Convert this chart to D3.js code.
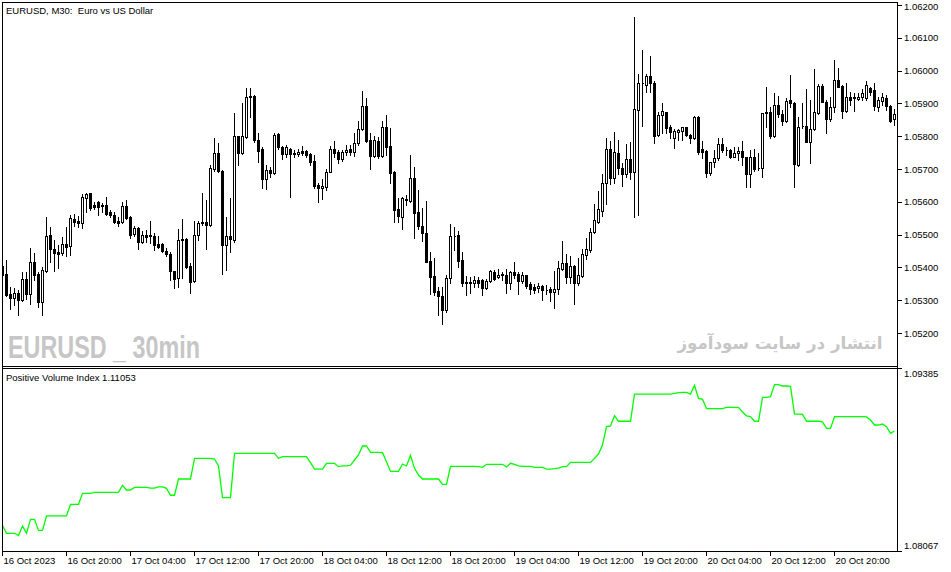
<!DOCTYPE html>
<html><head><meta charset="utf-8">
<script src="https://cdn.jsdelivr.net/npm/d3@7"></script>
<style>body{margin:0;background:#fff}svg{display:block}</style>
</head><body>
<svg id="chart"></svg>
<script>
// ---- data: EURUSD M30 candles (bar 0 = 16 Oct 2023 12:00) ----
const openP = [
1.05406,1.05382,1.05321,1.05309,1.05325,1.05302,1.05365,1.05320,1.05417,1.05381,1.05297,1.05392,1.05501,1.05458,1.05447,1.05445,
1.05472,1.05467,1.05550,1.05543,1.05538,1.05614,1.05627,1.05592,1.05600,1.05592,1.05592,1.05570,1.05562,1.05544,1.05541,1.05589,
1.05556,1.05502,1.05522,1.05478,1.05501,1.05501,1.05498,1.05473,1.05472,1.05452,1.05443,1.05392,1.05370,1.05486,1.05488,1.05406,
1.05361,1.05501,1.05541,1.05541,1.05531,1.05701,1.05750,1.05696,1.05470,1.05498,1.05485,1.05802,1.05749,1.05798,1.05925,1.05925,
1.05790,1.05762,1.05670,1.05698,1.05688,1.05808,1.05768,1.05747,1.05764,1.05749,1.05747,1.05756,1.05757,1.05747,1.05727,1.05653,
1.05643,1.05648,1.05693,1.05762,1.05754,1.05732,1.05752,1.05762,1.05754,1.05780,1.05823,1.05894,1.05790,1.05741,1.05788,1.05741,
1.05830,1.05772,1.05693,1.05579,1.05556,1.05607,1.05605,1.05673,1.05570,1.05529,1.05506,1.05421,1.05376,1.05330,1.05313,1.05272,
1.05368,1.05497,1.05501,1.05424,1.05356,1.05356,1.05353,1.05363,1.05363,1.05338,1.05361,1.05387,1.05372,1.05380,1.05379,1.05355,
1.05387,1.05382,1.05361,1.05379,1.05351,1.05341,1.05338,1.05345,1.05334,1.05336,1.05328,1.05335,1.05397,1.05414,1.05372,1.05407,
1.05355,1.05376,1.05440,1.05455,1.05509,1.05539,1.05574,1.05658,1.05761,1.05675,1.05749,1.05706,1.05685,1.05731,1.05693,1.05881,
1.05963,1.05958,1.05985,1.05965,1.05805,1.05866,1.05874,1.05829,1.05795,1.05813,1.05818,1.05829,1.05805,1.05795,1.05861,1.05761,
1.05757,1.05688,1.05722,1.05734,1.05777,1.05760,1.05759,1.05739,1.05749,1.05756,1.05737,1.05685,1.05739,1.05705,1.05704,1.05873,
1.05874,1.05802,1.05897,1.05868,1.05849,1.05912,1.05904,1.05713,1.05832,1.05833,1.05785,1.05823,1.05873,1.05955,1.05907,1.05854,
1.05890,1.05973,1.05955,1.05879,1.05922,1.05920,1.05916,1.05922,1.05917,1.05948,1.05942,1.05891,1.05910,1.05917,1.05894,1.05853];
const highP = [
1.05409,1.05424,1.05342,1.05339,1.05333,1.05388,1.05388,1.05460,1.05445,1.05388,1.05404,1.05556,1.05526,1.05485,1.05470,1.05493,
1.05526,1.05562,1.05564,1.05558,1.05624,1.05627,1.05629,1.05602,1.05605,1.05597,1.05617,1.05577,1.05571,1.05556,1.05600,1.05607,
1.05559,1.05529,1.05526,1.05514,1.05516,1.05544,1.05506,1.05498,1.05475,1.05460,1.05450,1.05392,1.05519,1.05549,1.05490,1.05414,
1.05544,1.05544,1.05627,1.05607,1.05714,1.05795,1.05780,1.05698,1.05556,1.05612,1.05873,1.05802,1.05904,1.05948,1.05948,1.05927,
1.05810,1.05769,1.05714,1.05708,1.05810,1.05812,1.05772,1.05775,1.05765,1.05759,1.05764,1.05772,1.05759,1.05749,1.05744,1.05658,
1.05671,1.05701,1.05772,1.05787,1.05759,1.05759,1.05775,1.05775,1.05810,1.05849,1.05940,1.05917,1.05812,1.05802,1.05800,1.05849,
1.05866,1.05826,1.05696,1.05612,1.05617,1.05622,1.05744,1.05707,1.05637,1.05582,1.05604,1.05450,1.05430,1.05343,1.05343,1.05379,
1.05534,1.05526,1.05513,1.05450,1.05375,1.05373,1.05375,1.05371,1.05366,1.05366,1.05394,1.05394,1.05396,1.05387,1.05396,1.05391,
1.05417,1.05387,1.05387,1.05379,1.05356,1.05351,1.05353,1.05348,1.05348,1.05343,1.05391,1.05421,1.05482,1.05442,1.05435,1.05409,
1.05430,1.05457,1.05491,1.05521,1.05595,1.05635,1.05685,1.05795,1.05788,1.05813,1.05790,1.05719,1.05777,1.05783,1.06166,1.05991,
1.06064,1.05991,1.06046,1.05970,1.05874,1.05902,1.05876,1.05836,1.05823,1.05824,1.05830,1.05830,1.05807,1.05863,1.05863,1.05788,
1.05759,1.05724,1.05759,1.05795,1.05795,1.05769,1.05763,1.05769,1.05769,1.05787,1.05739,1.05759,1.05763,1.05749,1.05873,1.05951,
1.05891,1.05932,1.05925,1.05881,1.05917,1.05988,1.05907,1.05861,1.05904,1.05945,1.05912,1.06005,1.05961,1.05960,1.05912,1.05922,
1.06034,1.06008,1.05958,1.05963,1.05937,1.05932,1.05934,1.05944,1.05971,1.05953,1.05963,1.05922,1.05932,1.05927,1.05897,1.05883];
const lowP = [
1.05375,1.05315,1.05275,1.05287,1.05257,1.05300,1.05305,1.05291,1.05363,1.05280,1.05255,1.05386,1.05419,1.05392,1.05401,1.05438,
1.05435,1.05440,1.05528,1.05526,1.05522,1.05571,1.05577,1.05580,1.05562,1.05569,1.05562,1.05556,1.05536,1.05528,1.05538,1.05549,
1.05491,1.05498,1.05458,1.05476,1.05479,1.05476,1.05455,1.05460,1.05450,1.05435,1.05363,1.05338,1.05341,1.05368,1.05400,1.05325,
1.05358,1.05485,1.05531,1.05458,1.05529,1.05695,1.05692,1.05381,1.05394,1.05447,1.05480,1.05714,1.05747,1.05795,1.05861,1.05785,
1.05724,1.05643,1.05640,1.05677,1.05686,1.05764,1.05731,1.05737,1.05617,1.05739,1.05741,1.05744,1.05737,1.05714,1.05643,1.05602,
1.05609,1.05637,1.05691,1.05737,1.05721,1.05726,1.05744,1.05744,1.05742,1.05775,1.05820,1.05785,1.05703,1.05737,1.05734,1.05737,
1.05744,1.05658,1.05541,1.05541,1.05519,1.05592,1.05602,1.05491,1.05518,1.05483,1.05417,1.05321,1.05316,1.05255,1.05229,1.05267,
1.05354,1.05455,1.05404,1.05345,1.05316,1.05325,1.05341,1.05341,1.05318,1.05335,1.05358,1.05363,1.05369,1.05363,1.05325,1.05336,
1.05369,1.05321,1.05355,1.05338,1.05321,1.05323,1.05328,1.05302,1.05321,1.05300,1.05279,1.05321,1.05394,1.05353,1.05353,1.05290,
1.05348,1.05373,1.05427,1.05450,1.05506,1.05536,1.05558,1.05595,1.05655,1.05660,1.05686,1.05650,1.05678,1.05670,1.05556,1.05562,
1.05833,1.05937,1.05937,1.05780,1.05803,1.05810,1.05810,1.05795,1.05767,1.05790,1.05790,1.05803,1.05780,1.05792,1.05747,1.05734,
1.05678,1.05683,1.05707,1.05729,1.05752,1.05744,1.05734,1.05737,1.05729,1.05714,1.05648,1.05646,1.05696,1.05698,1.05678,1.05831,
1.05797,1.05798,1.05861,1.05836,1.05846,1.05891,1.05648,1.05710,1.05828,1.05783,1.05719,1.05820,1.05868,1.05905,1.05810,1.05849,
1.05876,1.05951,1.05858,1.05874,1.05897,1.05879,1.05912,1.05912,1.05912,1.05927,1.05881,1.05878,1.05897,1.05881,1.05846,1.05836];
const closeP = [
1.05378,1.05318,1.05309,1.05322,1.05302,1.05365,1.05320,1.05417,1.05379,1.05297,1.05394,1.05498,1.05457,1.05445,1.05441,1.05473,
1.05465,1.05552,1.05541,1.05538,1.05616,1.05625,1.05582,1.05587,1.05587,1.05589,1.05565,1.05562,1.05541,1.05538,1.05589,1.05551,
1.05501,1.05522,1.05478,1.05501,1.05494,1.05496,1.05470,1.05465,1.05453,1.05442,1.05392,1.05366,1.05485,1.05488,1.05402,1.05356,
1.05501,1.05536,1.05536,1.05531,1.05704,1.05749,1.05695,1.05470,1.05498,1.05489,1.05802,1.05749,1.05802,1.05922,1.05920,1.05790,
1.05757,1.05670,1.05698,1.05688,1.05805,1.05768,1.05747,1.05768,1.05747,1.05746,1.05754,1.05751,1.05744,1.05724,1.05650,1.05643,
1.05650,1.05693,1.05762,1.05751,1.05732,1.05754,1.05759,1.05754,1.05782,1.05823,1.05894,1.05788,1.05741,1.05790,1.05741,1.05830,
1.05769,1.05688,1.05577,1.05558,1.05612,1.05609,1.05673,1.05567,1.05529,1.05506,1.05419,1.05373,1.05328,1.05313,1.05272,1.05368,
1.05498,1.05498,1.05422,1.05355,1.05355,1.05355,1.05363,1.05353,1.05338,1.05360,1.05391,1.05366,1.05379,1.05379,1.05355,1.05387,
1.05379,1.05361,1.05379,1.05345,1.05336,1.05333,1.05345,1.05333,1.05333,1.05328,1.05336,1.05399,1.05414,1.05373,1.05406,1.05355,
1.05379,1.05443,1.05457,1.05509,1.05546,1.05580,1.05658,1.05761,1.05675,1.05752,1.05705,1.05685,1.05731,1.05693,1.05884,1.05963,
1.05964,1.05985,1.05963,1.05803,1.05866,1.05878,1.05827,1.05813,1.05817,1.05820,1.05829,1.05805,1.05795,1.05861,1.05754,1.05754,
1.05688,1.05722,1.05734,1.05777,1.05759,1.05759,1.05739,1.05749,1.05756,1.05737,1.05685,1.05737,1.05701,1.05704,1.05871,1.05874,
1.05803,1.05897,1.05868,1.05849,1.05910,1.05904,1.05717,1.05830,1.05833,1.05785,1.05823,1.05874,1.05955,1.05907,1.05854,1.05890,
1.05973,1.05953,1.05879,1.05922,1.05912,1.05919,1.05922,1.05932,1.05958,1.05937,1.05894,1.05912,1.05920,1.05894,1.05848,1.05869];
// Positive Volume Index, one value per bar
const pvi = [
1.08253,1.08198,1.08198,1.08198,1.08181,1.08251,1.08198,1.08299,1.08299,1.08219,1.08219,1.08323,1.08323,1.08323,1.08323,1.08323,
1.08323,1.08407,1.08407,1.08407,1.08486,1.08486,1.08486,1.08493,1.08493,1.08493,1.08493,1.08493,1.08493,1.08493,1.08544,1.08510,
1.08510,1.08529,1.08529,1.08529,1.08529,1.08524,1.08524,1.08532,1.08532,1.08522,1.08472,1.08472,1.08589,1.08589,1.08589,1.08589,
1.08738,1.08738,1.08738,1.08738,1.08738,1.08733,1.08683,1.08455,1.08455,1.08455,1.08774,1.08774,1.08774,1.08774,1.08774,1.08774,
1.08774,1.08774,1.08774,1.08774,1.08774,1.08738,1.08750,1.08750,1.08750,1.08750,1.08750,1.08750,1.08750,1.08707,1.08661,1.08661,
1.08661,1.08702,1.08702,1.08702,1.08678,1.08683,1.08683,1.08688,1.08726,1.08762,1.08827,1.08827,1.08781,1.08781,1.08781,1.08779,
1.08714,1.08644,1.08644,1.08644,1.08697,1.08683,1.08760,1.08666,1.08618,1.08589,1.08589,1.08589,1.08589,1.08589,1.08551,1.08551,
1.08680,1.08680,1.08680,1.08680,1.08680,1.08680,1.08680,1.08678,1.08673,1.08695,1.08695,1.08695,1.08695,1.08695,1.08676,1.08702,
1.08695,1.08683,1.08680,1.08680,1.08680,1.08673,1.08673,1.08673,1.08661,1.08661,1.08664,1.08668,1.08678,1.08678,1.08709,1.08709,
1.08709,1.08709,1.08709,1.08709,1.08738,1.08769,1.08834,1.08966,1.08971,1.09045,1.09005,1.09005,1.09005,1.09005,1.09201,1.09201,
1.09201,1.09201,1.09201,1.09201,1.09201,1.09201,1.09201,1.09201,1.09206,1.09211,1.09213,1.09213,1.09201,1.09264,1.09170,1.09163,
1.09096,1.09096,1.09096,1.09096,1.09096,1.09105,1.09105,1.09105,1.09105,1.09072,1.09043,1.09038,1.09005,1.09005,1.09177,1.09177,
1.09182,1.09269,1.09269,1.09259,1.09259,1.09256,1.09057,1.09057,1.09055,1.09005,1.09005,1.09005,1.09005,1.09000,1.08954,1.08954,
1.09038,1.09038,1.09038,1.09038,1.09038,1.09038,1.09038,1.09038,1.09036,1.09014,1.08978,1.08978,1.08985,1.08966,1.08918,1.08935];
const priceTicks = [1.062,1.061,1.060,1.059,1.058,1.057,1.056,1.055,1.054,1.053,1.052];
const pviTicks = [1.09385,1.08067];
const timeTickIdx = [0,16,32,48,64,80,96,112,128,144,160,176,192,208];
const timeTickLabels = ["16 Oct 2023","16 Oct 20:00","17 Oct 04:00","17 Oct 12:00","17 Oct 20:00","18 Oct 04:00",
  "18 Oct 12:00","18 Oct 20:00","19 Oct 04:00","19 Oct 12:00","19 Oct 20:00","20 Oct 04:00","20 Oct 12:00","20 Oct 20:00"];
const titleText = "EURUSD, M30:  Euro vs US Dollar";
const indicatorText = "Positive Volume Index 1.11053";
const watermarkLatin = "EURUSD _ 30min";
const watermarkPersian = "انتشار در سایت سودآموز";

// ---- drawing ----
const FONT = "'Liberation Sans', Arial, sans-serif";
const FS = 9.5;
const n = openP.length;
const svg = d3.select("#chart").attr("width", 951).attr("height", 572);
svg.append("rect").attr("width", 951).attr("height", 572).attr("fill", "#fff");

const x = d3.scaleLinear().domain([0, n - 1]).range([2.5, 894.5]);
const y = d3.scaleLinear().domain([1.052, 1.062]).range([333.5, 5.5]);
const yp = d3.scaleLinear().domain([1.08067, 1.09385]).range([551.5, 368.5]);

const defs = svg.append("defs");
defs.append("clipPath").attr("id", "clipMain").append("rect").attr("x", 3).attr("y", 3).attr("width", 894).attr("height", 363);
defs.append("clipPath").attr("id", "clipInd").append("rect").attr("x", 3).attr("y", 369).attr("width", 894).attr("height", 182);

// watermarks
svg.append("text").attr("x", 8).attr("y", 358)
  .attr("font-family", FONT).attr("font-weight", "bold").attr("font-size", 32)
  .attr("fill", "#c6c6c6").attr("textLength", 192).attr("lengthAdjust", "spacingAndGlyphs")
  .text(watermarkLatin);
svg.append("text").attr("x", 780).attr("y", 349).attr("text-anchor", "middle").attr("direction", "rtl")
  .attr("font-family", "'DejaVu Sans', 'Noto Sans', sans-serif").attr("font-weight", "bold").attr("font-size", 17)
  .attr("fill", "#c6c6c6").attr("textLength", 205).attr("lengthAdjust", "spacingAndGlyphs")
  .text(watermarkPersian);

// candles
const bars = d3.range(n).map(i => ({ i, o: openP[i], h: highP[i], l: lowP[i], c: closeP[i] }));
const gc = svg.append("g").attr("clip-path", "url(#clipMain)").attr("shape-rendering", "crispEdges");
gc.selectAll("line.wick").data(bars).join("line").attr("class", "wick")
  .attr("x1", d => x(d.i)).attr("x2", d => x(d.i))
  .attr("y1", d => Math.round(y(d.h))).attr("y2", d => Math.round(y(d.l)) + 1)
  .attr("stroke", "#000").attr("stroke-width", 1);
gc.selectAll("path.body").data(bars).join("path").attr("class", "body")
  .attr("d", d => {
    const top = Math.round(y(Math.max(d.o, d.c)));
    const bot = Math.round(y(Math.min(d.o, d.c)));
    const x0 = x(d.i) - 1;
    return `M${x0},${top + 0.5}h2v${bot - top}h-2Z`;
  })
  .attr("fill", d => d.c > d.o ? "#fff" : "#000")
  .attr("stroke", "#000").attr("stroke-width", 1);

// PVI line
svg.append("path").datum(pvi).attr("clip-path", "url(#clipInd)")
  .attr("d", d3.line().x((d, i) => x(i)).y(d => yp(d)))
  .attr("fill", "none").attr("stroke", "#00ff00").attr("stroke-width", 1.3);

// frames
const fr = svg.append("g").attr("stroke", "#000").attr("shape-rendering", "crispEdges");
[[2.5, 2, 2.5, 552], [897.5, 2, 897.5, 552], [2, 2.5, 898, 2.5], [2, 366.5, 898, 366.5], [2, 368.5, 898, 368.5], [2, 551.5, 898, 551.5]]
  .forEach(l => fr.append("line").attr("x1", l[0]).attr("y1", l[1]).attr("x2", l[2]).attr("y2", l[3]));

function styleAxis(g) {
  g.select(".domain").remove();
  g.attr("font-family", FONT).attr("font-size", FS);
  g.selectAll("line").attr("stroke", "#000").attr("shape-rendering", "crispEdges");
  g.selectAll("text").attr("fill", "#000");
}

// price axis
const gP = svg.append("g").attr("transform", "translate(898,-0.5)")
  .call(d3.axisRight(y).tickValues(priceTicks).tickSize(4).tickPadding(2).tickFormat(d3.format(".5f")))
  .call(styleAxis);
gP.selectAll(".tick text").filter(d => d === 1.062).attr("dy", "0.45em");

// PVI axis
const gV = svg.append("g").attr("transform", "translate(898,-0.5)")
  .call(d3.axisRight(yp).tickValues(pviTicks).tickSize(4).tickPadding(2).tickFormat(d3.format(".5f")))
  .call(styleAxis);
gV.selectAll(".tick text").attr("dy", d => d === 1.09385 ? "0.9em" : "-0.3em");

// time axis
const gT = svg.append("g").attr("transform", "translate(-0.5,551.5)")
  .call(d3.axisBottom(x).tickValues(timeTickIdx).tickSize(4).tickPadding(2).tickFormat((d, k) => timeTickLabels[k]))
  .call(styleAxis);
gT.selectAll(".tick text").attr("text-anchor", "start").attr("x", 1);

// titles
svg.append("text").attr("x", 6).attr("y", 14).attr("font-family", FONT).attr("font-size", FS)
  .style("white-space", "pre").text(titleText);
svg.append("text").attr("x", 6).attr("y", 380.5).attr("font-family", FONT).attr("font-size", FS)
  .text(indicatorText);
</script>
</body></html>
